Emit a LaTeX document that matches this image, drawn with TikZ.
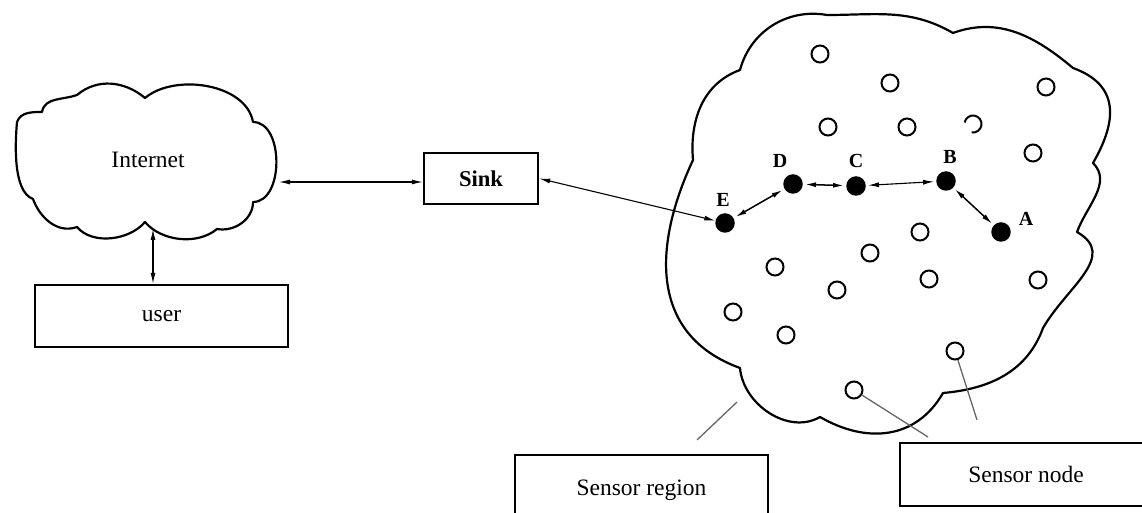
\documentclass[tikz,border=0pt]{standalone}
\usepackage{fontspec}
\setmainfont{Liberation Serif}
\usetikzlibrary{arrows.meta}
\begin{document}
\begin{tikzpicture}[x=1pt,y=1pt,
  cloudline/.style={line width=2.2pt, line join=round},
  box/.style={draw, line width=2.4pt, inner sep=0pt, font=\fontsize{23.5}{28}\selectfont},
  sensor/.style={circle, draw, line width=2pt, minimum size=17pt, inner sep=0pt},
  hop/.style={circle, fill=black, minimum size=19.5pt, inner sep=0pt},
  lbl/.style={font=\fontsize{20}{23}\selectfont\bfseries},
  dblarrow/.style={{Latex[length=11pt,width=5pt]}-{Latex[length=11pt,width=5pt]}, line width=1.1pt},
  leader/.style={draw=black!60, line width=1.3pt}]
\useasboundingbox (0,0) rectangle (1142,513);
\clip (0,0) rectangle (1142,513);
\fill[white] (0,0) rectangle (1142,513);

% Internet cloud
\draw[cloudline] (145,415)
  to[out=40,in=100,looseness=0.9] (253,391)
  to[out=0,in=0] (253,311)
  to[out=-90,in=-10] (217,284)
  to[out=-140,in=-50,looseness=0.9] (145,291)
  to[out=-130,in=-50,looseness=0.9] (77,286)
  to[out=-160,in=-70] (33,314)
  to[out=160,in=-95,looseness=0.7] (17,391)
  to[out=70,in=180] (42,401)
  to[out=80,in=200] (77,418)
  to[out=40,in=140] cycle;
\node[font=\fontsize{23.5}{28}\selectfont] (internet) at (148,353) {Internet};
\coordinate (inetR) at (279,331);
\coordinate (inetB) at (153,284);

% boxes
\node[box, minimum width=253pt, minimum height=62pt] (user) at (161.5,197) {user};
\node[box, minimum width=114pt, minimum height=51pt, font=\fontsize{22.6}{27}\selectfont\bfseries] (sink) at (481,334.5) {Sink};
\node[box, minimum width=253pt, minimum height=70pt] (region) at (641.5,23) {Sensor region};
\node[box, minimum width=252pt, minimum height=63pt] (snode) at (1026,38.5) {Sensor node};

% sensor region cloud
\draw[cloudline] (740,443)
  to[out=75,in=170] (827,498)
  to[out=0,in=150] (953,480)
  to[out=20,in=140] (1073,445)
  to[out=-20,in=60,looseness=1.3] (1093,350)
  to[out=-45,in=70] (1077,281)
  to[out=-30,in=60,looseness=1.2] (1043,185)
  to[out=-110,in=5] (943,120)
  to[out=-120,in=-30,looseness=1.1] (820,96)
  to[out=-150,in=-85] (740,145)
  to[out=160,in=-115,looseness=1.15] (693,353)
  to[out=95,in=200] cycle;

% open sensor nodes
\node[sensor] (s1) at (820,459) {};
\node[sensor] (s2) at (890,430) {};
\node[sensor] (s3) at (1046,426) {};
\node[sensor] (s4) at (828,386) {};
\node[sensor] (s5) at (907,386) {};
\coordinate (s6) at (973,389);
\draw[line width=2pt] ([shift={(-100:8.5)}]s6) arc[start angle=-100,end angle=170,radius=8.5];
\node[sensor] (s7) at (1033,360) {};
\node[sensor] (s8) at (920,281) {};
\node[sensor] (s9) at (870,260) {};
\node[sensor] (s10) at (775,246) {};
\node[sensor] (s11) at (929,234) {};
\node[sensor] (s12) at (1038,233) {};
\node[sensor] (s13) at (837,223) {};
\node[sensor] (s14) at (733,201) {};
\node[sensor] (s15) at (786,178) {};
\node[sensor] (s16) at (955,162) {};
\node[sensor] (s17) at (854,123) {};

% path nodes
\node[hop] (E) at (725,290) {};
\node[hop] (D) at (793,329) {};
\node[hop] (C) at (856,327) {};
\node[hop] (B) at (946,332) {};
\node[hop] (A) at (1001,281) {};
\node[lbl] at (723,313) {E};
\node[lbl] at (780,352) {D};
\node[lbl] at (856,352) {C};
\node[lbl] at (950,356) {B};
\node[lbl] at (1026,294) {A};

% connectors
\draw[dblarrow] (inetR) -- (sink.west |- inetR);
\draw[dblarrow] (inetB) -- (inetB |- user.north);
\draw[dblarrow] (sink.east) -- (E);
\draw[dblarrow, line width=1.5pt, shorten <=2pt, shorten >=2pt] (E) -- (D);
\draw[dblarrow, line width=1.5pt, shorten <=2pt, shorten >=2pt] (D) -- (C);
\draw[dblarrow, shorten <=2pt, shorten >=2pt] (C) -- (B);
\draw[dblarrow, line width=1.5pt, shorten <=2pt, shorten >=2pt] (B) -- (A);

% leader lines
\coordinate (regTop) at (737,111);
\coordinate (regEnd) at (697,73);
\coordinate (lead1) at (928,76);
\coordinate (lead2) at (977,93);
\draw[leader] (regTop) -- (regEnd);
\draw[leader] (s17) -- (lead1);
\draw[leader] (s16) -- (lead2);
\end{tikzpicture}
\end{document}
